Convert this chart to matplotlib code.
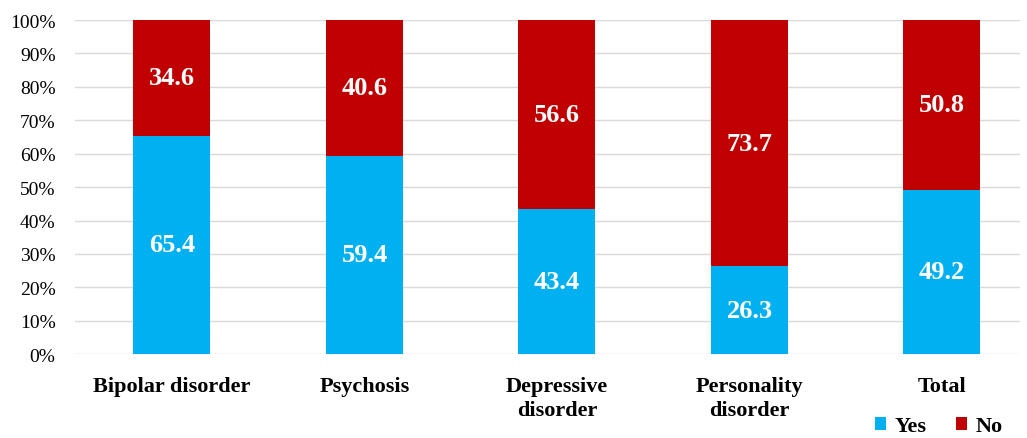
import numpy as np
import matplotlib.pyplot as plt
from matplotlib.ticker import PercentFormatter

plt.rcParams['font.family'] = ['Liberation Serif', 'DejaVu Serif']

# data
categories = ['Bipolar disorder', 'Psychosis', 'Depressive\ndisorder',
              'Personality\ndisorder', 'Total']
yes_vals = [65.4, 59.4, 43.4, 26.3, 49.2]
no_vals = [34.6, 40.6, 56.6, 73.7, 50.8]

yes_color = '#00B0F0'
no_color = '#C00000'

fig = plt.figure(figsize=(10.27, 4.39), dpi=100)
ax = fig.add_axes([0.073, 0.191, 0.92, 0.761])

x = np.arange(len(categories))
w = 0.40
b1 = ax.bar(x, yes_vals, w, color=yes_color, label='Yes', zorder=3)
b2 = ax.bar(x, no_vals, w, bottom=yes_vals, color=no_color, label='No', zorder=3)

for i in range(len(x)):
    ax.text(x[i], yes_vals[i] / 2, f'{yes_vals[i]:.1f}', ha='center', va='center',
            color='white', fontsize=19, fontweight='bold', zorder=4)
    ax.text(x[i], yes_vals[i] + no_vals[i] / 2, f'{no_vals[i]:.1f}', ha='center',
            va='center', color='white', fontsize=19, fontweight='bold', zorder=4)

ax.set_xlim(-0.504, 4.405)
ax.set_ylim(0, 100)
ax.set_yticks(np.arange(0, 101, 10))
ax.yaxis.set_major_formatter(PercentFormatter(decimals=0))
ax.set_xticks(x)
ax.set_xticklabels(categories, fontsize=16, fontweight='bold', va='top', linespacing=1.25)
ax.tick_params(axis='y', labelsize=14, length=0, pad=14)
ax.tick_params(axis='x', length=0, pad=16)
ax.grid(axis='y', color='#D9D9D9', linewidth=1, zorder=0)
for s in ax.spines.values():
    s.set_visible(False)

leg = fig.legend(handles=[b1, b2], loc='lower right', bbox_to_anchor=(0.996, -0.042),
                 ncol=2, frameon=False, prop={'size': 16, 'weight': 'bold'},
                 handlelength=0.5, handleheight=0.5, handletextpad=0.4, columnspacing=1.3)

fig.savefig('out.png', dpi=100)
